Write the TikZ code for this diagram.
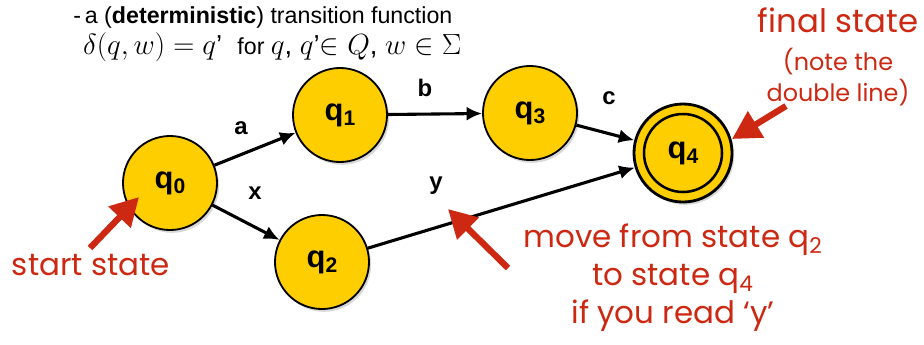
\documentclass[tikz,border=0pt]{standalone}
\usepackage{amsmath, amssymb}
\usepackage{fontspec}
\setmainfont{Liberation Sans}
\newfontfamily\notefont{Poppins}
\usepackage{tikz}
\usetikzlibrary{arrows.meta, shadows, positioning}
\definecolor{StateYellow}{RGB}{255,206,0}
\definecolor{NoteRed}{RGB}{204,40,18}
\newcommand{\qsub}[1]{q\raisebox{-0.3ex}{\fontsize{15}{16}\selectfont #1}}
\tikzset{
  state/.style={circle, draw=black, line width=1.3pt, fill=StateYellow, minimum size=2.35cm, inner sep=0pt,
    font=\fontsize{22}{24}\selectfont\bfseries,
    drop shadow={opacity=0.3, shadow xshift=1.5pt, shadow yshift=-2pt}},
  trans/.style={-{Latex[length=11pt, width=10pt]}, line width=2.2pt},
  lbl/.style={font=\fontsize{17}{19}\selectfont\bfseries},
  note/.style={NoteRed, font=\notefont\fontsize{22}{27}\selectfont, align=center},
  notearrow/.style={-{Triangle[length=20pt, width=21pt]}, NoteRed, line width=4.5pt},
}

\begin{document}
\begin{tikzpicture}[x=0.025cm, y=-0.025cm]
  \useasboundingbox (0,0) rectangle (924,344);
  % Heading
  \node[anchor=north west, align=left, inner sep=0pt, font=\fontsize{16.5}{20.5}\selectfont] (head) at (73,6)
    {-\,a (\textbf{deterministic}) transition function\\[2pt]
     \hspace{7pt}{\fontsize{19.5}{21}\selectfont$\delta(q,w) = q$’\ \ }for {\fontsize{19.5}{21}\selectfont$q$, $q$’$\in Q$, $w \in \Sigma$}};
  % States
  \node[state] (q0) at (170,183) {\qsub{0}};
  \node[state] (q1) at (340,115) {\qsub{1}};
  \node[state] (q3) at (530,113) {\qsub{3}};
  \node[state] (q2) at (322,262) {\qsub{2}};
  \node[state, minimum size=2.45cm, line width=2pt] (q4) at (683,153) {\qsub{4}};
  \draw[line width=1.8pt] (q4.center) circle (39);
  % Transitions
  \draw[trans] (q0) -- (q1);
  \draw[trans] (q0) -- (q2);
  \draw[trans] (q1) -- (q3);
  \draw[trans] (q3) -- (q4);
  \draw[trans] (q2) -- (q4);
  \node[lbl] (la) at (241,128) {a};
  \node[lbl] (lx) at (255,193) {x};
  \node[lbl] (lb) at (425,88) {b};
  \node[lbl] (lc) at (609,98) {c};
  \node[lbl] (ly) at (436,186) {y};
  % Notes
  \node[note, font=\notefont\fontsize{23}{25}\selectfont] (final) at (838,20) {final state};
  \node[note, font=\notefont\fontsize{17}{21.5}\selectfont] (final2) at (838,77) {(note the\\double line)};
  \node[note] (start) at (91,265) {start state};
  \node[note] (move) at (673,278) {move from state q\textsubscript{2}\\to state q\textsubscript{4}\\if you read ‘y’};
  % Note arrows
  \coordinate (finalTail) at (786,106);
  \coordinate (finalHead) at (732,139);
  \coordinate (startTail) at (90,248);
  \coordinate (startHead) at (139,197);
  \coordinate (moveTail) at (508,268);
  \coordinate (moveHead) at (448,209);
  \draw[notearrow] (finalTail) -- (finalHead);
  \draw[notearrow] (startTail) -- (startHead);
  \draw[notearrow] (moveTail) -- (moveHead);
\end{tikzpicture}
\end{document}
